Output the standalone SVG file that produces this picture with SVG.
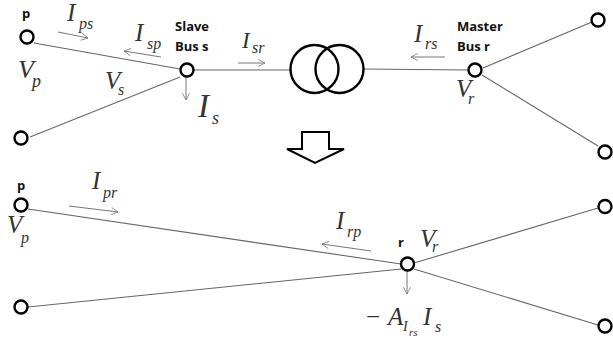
<svg xmlns="http://www.w3.org/2000/svg" width="613" height="339" viewBox="0 0 613 339">
<defs>
<marker id="a" viewBox="0 0 10 10" refX="9.5" refY="5" markerWidth="8" markerHeight="8" markerUnits="userSpaceOnUse" orient="auto"><path d="M1 .5L9.5 5L1 9.500" fill="none" stroke="#777" stroke-width="1"/></marker>
</defs>
<style>
.l{stroke:#666;stroke-width:1.100;fill:none}
.c{stroke:#777;stroke-width:1;fill:none;marker-end:url(#a)}
.n{fill:#fff;stroke:#000;stroke-width:2.400}
.b{font-family:"Open Sans","Liberation Sans",sans-serif;font-weight:700;font-size:13px;fill:#111}
.i{font-family:"Liberation Serif",serif;font-style:italic;fill:#333;font-size:25px}
.i tspan{font-size:16px}
.o{fill:none;stroke:#000;stroke-width:2.400}
</style>
<rect width="613" height="339" fill="#fff"/>
<g id="connectors">
<path class="l" d="M34 43L180 69M30 137L180 77M194 70H291M363 69L468 70M483 68L592 22M482 75L598 146"/>
<path class="l" d="M28 209L401 264M28 307L401 269M414 263L598 208M414 269L598 325"/>
<path class="c" d="M58 32L88 38"/>
<path class="c" d="M161 57L124 51"/>
<path class="c" d="M238 63H265"/>
<path class="c" d="M186 77V100"/>
<path class="c" d="M445 57H411"/>
<path class="c" d="M69 206L118 212"/>
<path class="c" d="M371 251L322 244"/>
<path class="c" d="M407 271V294"/>
</g>
<g id="transformer"><circle class="o" cx="314.500" cy="69" r="24"/><circle class="o" cx="339.500" cy="69" r="24"/></g>
<g id="down-arrow"><path d="M302 132H329V149H344L315 163L287 149H302Z" fill="#fff" stroke="#000" stroke-width="2"/></g>
<g id="node-p"><circle class="n" cx="27" cy="37" r="6.500"/><text class="b" x="22" y="18">p</text></g>
<g id="node-q"><circle class="n" cx="21" cy="138" r="6.500"/></g>
<g id="node-s"><circle class="n" cx="187" cy="70" r="6.500"/><text class="b" x="175" y="31">Slave</text><text class="b" x="175" y="51">Bus s</text></g>
<g id="node-r"><circle class="n" cx="475" cy="70" r="6.500"/><text class="b" x="457" y="31">Master</text><text class="b" x="457" y="51">Bus r</text></g>
<g id="node-rt"><circle class="n" cx="598" cy="20" r="6.500"/></g>
<g id="node-rb"><circle class="n" cx="605" cy="152" r="6.500"/></g>
<g id="node-p2"><circle class="n" cx="21" cy="205" r="6.500"/><text class="b" x="17" y="190">p</text></g>
<g id="node-q2"><circle class="n" cx="21" cy="307" r="6.500"/></g>
<g id="node-r2"><circle class="n" cx="407.500" cy="264" r="6.500"/><text class="b" x="398" y="247">r</text></g>
<g id="node-rt2"><circle class="n" cx="605" cy="206.500" r="6.500"/></g>
<g id="node-rb2"><circle class="n" cx="605" cy="326" r="6.500"/></g>
<g id="labels">
<text class="i" x="67" y="21">I<tspan x="79" y="29">ps</tspan></text>
<text class="i" x="135" y="41">I<tspan x="147" y="49">sp</tspan></text>
<text class="i" x="242" y="48" style="font-size:23px">I<tspan x="252" y="53">sr</tspan></text>
<text class="i" x="198" y="117" style="font-size:33px">I<tspan x="212" y="124" style="font-size:18px">s</tspan></text>
<text class="i" x="18" y="78" style="font-size:26px">V<tspan x="32" y="87" style="font-size:18px">p</tspan></text>
<text class="i" x="105" y="89">V<tspan x="118" y="95">s</tspan></text>
<text class="i" x="414" y="42">I<tspan x="425" y="49">rs</tspan></text>
<text class="i" x="456" y="97">V<tspan x="468" y="104">r</tspan></text>
<text class="i" x="92" y="189">I<tspan x="103" y="198">pr</tspan></text>
<text class="i" x="7" y="233">V<tspan x="21" y="243">p</tspan></text>
<text class="i" x="336" y="229">I<tspan x="347" y="237">rp</tspan></text>
<text class="i" x="420" y="247">V<tspan x="432" y="252">r</tspan></text>
<text class="i" x="366" y="325"><tspan style="font-style:normal;font-size:25px">−</tspan><tspan x="388" y="325" style="font-size:25px">A</tspan><tspan x="403" y="331" style="font-size:14px">I</tspan><tspan x="409" y="336" style="font-size:11px">rs</tspan><tspan x="423" y="325" style="font-size:25px">I</tspan><tspan x="435" y="332">s</tspan></text>
</g>
</svg>
